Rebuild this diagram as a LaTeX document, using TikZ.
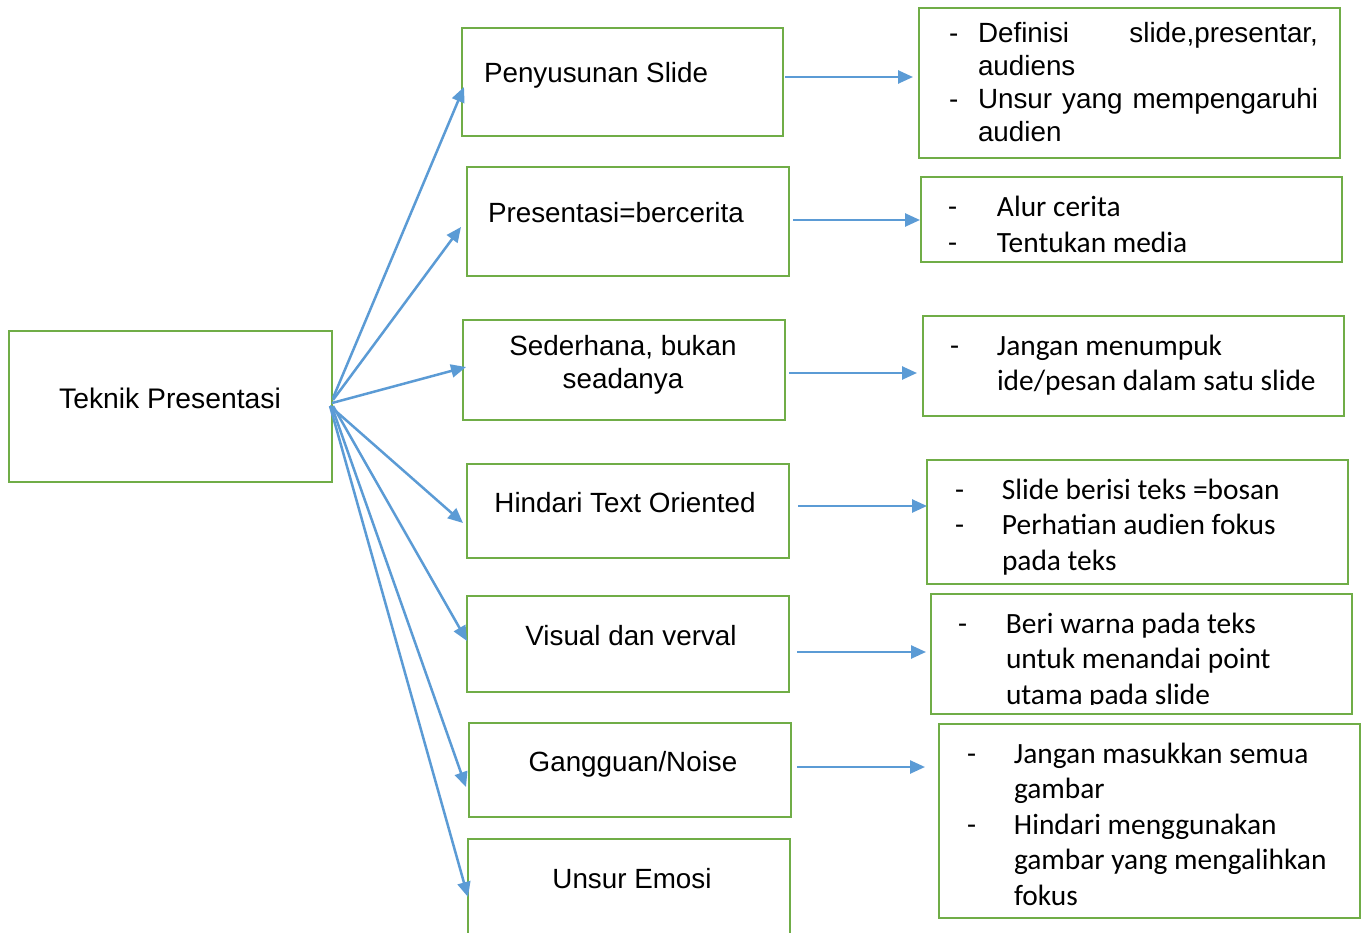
\documentclass[tikz,border=0pt]{standalone}
\usepackage{fontspec}
\setmainfont{Liberation Sans}
\newfontfamily\cbf{Carlito}
\usetikzlibrary{arrows.meta,fit}
\definecolor{gr}{HTML}{70AD47}
\definecolor{bl}{HTML}{5B9BD5}
\newcommand{\fgsize}{\fontsize{27.8}{33}\selectfont}
\newcommand{\cbsize}{\cbf\fontsize{29.4}{35.5}\selectfont}
\newcommand{\itm}[2]{\par\hangindent=#1\hangafter=1\noindent\makebox[#1][l]{-}#2}
\begin{document}
\begin{tikzpicture}[x=1pt,y=-1pt,
  box/.style={draw=gr, line width=2.6pt, inner sep=0pt},
  lbl/.style={inner sep=0pt, outer sep=0pt, font=\fgsize},
  lst/.style={inner sep=0pt, outer sep=0pt},
  arr/.style={draw=bl, line width=2.5pt, -{Triangle[length=15pt,width=13pt]}}
]
\clip (0,0) rectangle (1364,933);
\fill[white] (0,0) rectangle (1364,933);

% left main box
\node[box, fit={(9,331) (332,482)}] (tp) {};
\node[lbl, anchor=base] (tpt) at (170,408) {\fontsize{28.3}{33}\selectfont Teknik Presentasi};

% middle boxes
\node[box, fit={(462,28) (783,136)}] (b1) {};
\node[lbl, anchor=base west] (b1t) at (484,83) {Penyusunan Slide};
\node[box, fit={(467,167) (789,276)}] (b2) {};
\node[lbl, anchor=base west] (b2t) at (488,223) {Presentasi=bercerita};
\node[box, fit={(463,320) (785,420)}] (b3) {};
\node[lbl, anchor=base] (b3t) at (623,355) {Sederhana, bukan};
\node[lbl, anchor=base] (b3u) at (623,388) {seadanya};
\node[box, fit={(467,464) (789,558)}] (b4) {};
\node[lbl, anchor=base] (b4t) at (625,512) {Hindari Text Oriented};
\node[box, fit={(467,596) (789,692)}] (b5) {};
\node[lbl, anchor=base] (b5t) at (631,645) {Visual dan verval};
\node[box, fit={(469,723) (791,817)}] (b6) {};
\node[lbl, anchor=base] (b6t) at (633,771) {Gangguan/Noise};
\node[box, fit={(468,839) (790,950)}] (b7) {};
\node[lbl, anchor=base] (b7t) at (632,888) {Unsur Emosi};

% right boxes
\node[box, fit={(919,8) (1340,158)}] (r1) {};
\node[lst, anchor=base west] (r1t) at (949,43) {\parbox[t]{400pt}{\fgsize
  \itm{29pt}{\makebox[340pt][s]{Definisi\hfill slide,presentar,}\\audiens}
  \itm{29pt}{\makebox[340pt][s]{Unsur yang mempengaruhi}\\audien}}};

\node[box, fit={(921,177) (1342,262)}] (r2) {};
\node[lst, anchor=base west] (r2t) at (948,216.7) {\parbox[t]{400pt}{\cbsize
  \itm{49pt}{Alur cerita}
  \itm{49pt}{Tentukan media}}};

\node[box, fit={(923,316) (1344,416)}] (r3) {};
\node[lst, anchor=base west] (r3t) at (950,355) {\parbox[t]{400pt}{\cbsize
  \itm{47pt}{Jangan menumpuk\\ide/pesan dalam satu slide}}};

\node[box, fit={(927,460) (1348,584)}] (r4) {};
\node[lst, anchor=base west] (r4t) at (955,499.3) {\parbox[t]{400pt}{\cbsize
  \itm{47pt}{Slide berisi teks =bosan}
  \itm{47pt}{Perhatian audien fokus\\pada teks}}};

\node[box, fit={(931,594) (1352,714)}] (r5) {};
\begin{scope}
\clip (925,590) rectangle (1360,704);
\node[lst, anchor=base west] (r5t) at (958,633) {\parbox[t]{400pt}{\cbsize
  \itm{48pt}{Beri warna pada teks\\untuk menandai point\\utama pada slide}}};
\end{scope}

\node[box, fit={(939,724) (1360,918)}] (r6) {};
\node[lst, anchor=base west] (r6t) at (967,763) {\parbox[t]{400pt}{\cbsize
  \itm{47pt}{Jangan masukkan semua\\gambar}
  \itm{47pt}{Hindari menggunakan\\gambar yang mengalihkan\\fokus}}};

% diagonal connector end points
\coordinate (s1) at (333,398);
\coordinate (s2) at (333,400);
\coordinate (s3) at (332,403);
\coordinate (s4) at (330,406);
\coordinate (s5) at (333,406);
\coordinate (s6) at (332,407);
\coordinate (s7) at (330,406);
\coordinate (e1) at (464,87);
\coordinate (e2) at (461,227);
\coordinate (e3) at (466,367);
\coordinate (e4) at (463,523);
\coordinate (e5) at (467,641);
\coordinate (e6) at (466,787);
\coordinate (e7) at (468,897);
\foreach \i in {1,...,7} {\draw[arr] (s\i) -- (e\i);}

% horizontal connectors
\coordinate (h1a) at (785,77);  \coordinate (h1b) at (913,77);
\coordinate (h2a) at (793,220); \coordinate (h2b) at (920,220);
\coordinate (h3a) at (789,373); \coordinate (h3b) at (917,373);
\coordinate (h4a) at (798,506); \coordinate (h4b) at (927,506);
\coordinate (h5a) at (797,652); \coordinate (h5b) at (926,652);
\coordinate (h6a) at (797,767); \coordinate (h6b) at (925,767);
\foreach \i in {1,...,6} {\draw[arr] (h\i a) -- (h\i b);}
\end{tikzpicture}
\end{document}
